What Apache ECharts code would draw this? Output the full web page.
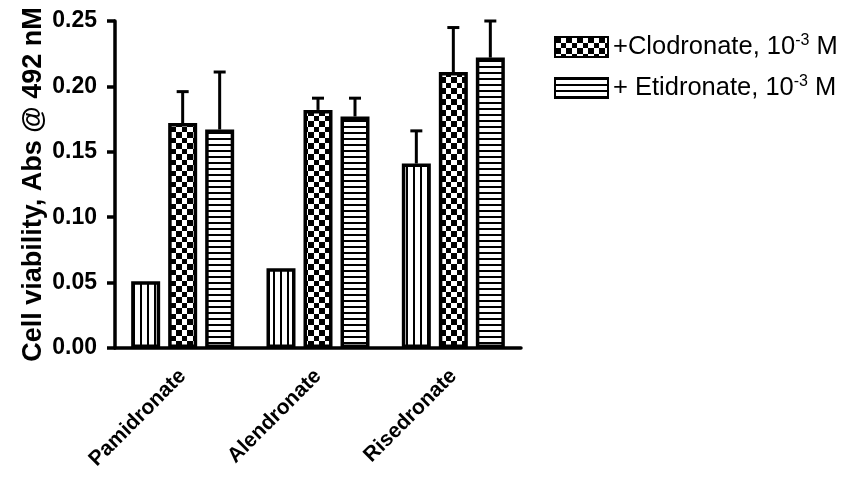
<!DOCTYPE html>
<html>
<head>
<meta charset="utf-8">
<script src="https://cdn.jsdelivr.net/npm/echarts@6/dist/echarts.min.js"></script>
<style>
  html, body { margin: 0; padding: 0; background: #fff; }
  #chart { width: 849px; height: 477px; }
</style>
</head>
<body>
<div id="chart"></div>
<script>
const categories = ["Pamidronate", "Alendronate", "Risedronate"];
const yTicks = [0, 0.05, 0.1, 0.15, 0.2, 0.25];

// bare drug, no legend entry
const plainVals = [0.051, 0.061, 0.141];
const plainErr = [0, 0, 0.025];
// + Clodronate 10^-3 M
const clodVals = [0.172, 0.182, 0.211];
const clodErr = [0.024, 0.009, 0.034];
// + Etidronate 10^-3 M
const etiVals = [0.167, 0.177, 0.222];
const etiErr = [0.044, 0.014, 0.028];

const FONT = "Arial, 'Liberation Sans', sans-serif";
const BAR_W = 29;
const GAP = 8;

function makePattern(kind) {
  const c = document.createElement("canvas");
  const ctx = c.getContext("2d");
  if (kind === "vert") {
    c.width = 7; c.height = 4;
    ctx.fillStyle = "#fff"; ctx.fillRect(0, 0, 7, 4);
    ctx.fillStyle = "#000"; ctx.fillRect(0, 0, 2, 4);
  } else if (kind === "check") {
    c.width = 11; c.height = 11;
    ctx.fillStyle = "#fff"; ctx.fillRect(0, 0, 11, 11);
    ctx.fillStyle = "#000";
    ctx.fillRect(0, 0, 6, 6);
    ctx.fillRect(6, 6, 5, 5);
  } else {
    c.width = 4; c.height = 6;
    ctx.fillStyle = "#fff"; ctx.fillRect(0, 0, 4, 6);
    ctx.fillStyle = "#000"; ctx.fillRect(0, 0, 4, 2);
  }
  return { image: c, repeat: "repeat" };
}

function barSeries(name, vals, kind) {
  return {
    name: name,
    type: "bar",
    data: vals,
    barWidth: BAR_W,
    barGap: (GAP / BAR_W * 100).toFixed(1) + "%",
    itemStyle: { color: makePattern(kind), borderColor: "#000", borderWidth: 3.5 },
    emphasis: { disabled: true },
  };
}

function errSeries(vals, errs, k) {
  return {
    type: "custom",
    data: vals.map((v, i) => [i, v, v + errs[i]]),
    z: 1,
    silent: true,
    renderItem: (params, api) => {
      const i = api.value(0);
      const lo = api.coord([i, api.value(1)]);
      const hi = api.coord([i, api.value(2)]);
      if (api.value(2) <= api.value(1)) return null;
      const x = lo[0] + (k - 1) * (BAR_W + GAP);
      const st = { stroke: "#000", lineWidth: 3 };
      return {
        type: "group",
        children: [
          { type: "line", shape: { x1: x, y1: lo[1], x2: x, y2: hi[1] }, style: st },
          { type: "line", shape: { x1: x - 6, y1: hi[1], x2: x + 6, y2: hi[1] }, style: st },
        ],
      };
    },
  };
}

const chart = echarts.init(document.getElementById("chart"));
chart.setOption({
  animation: false,
  grid: { left: 115, right: 328, top: 21, bottom: 129 },
  legend: {
    data: ["clod", "eti"],
    orient: "vertical",
    left: 549,
    top: 28,
    itemWidth: 53,
    itemHeight: 20,
    itemGap: 14,
    selectedMode: false,
    icon: "rect",
    formatter: (n) =>
      n === "clod"
        ? "{a|+Clodronate, 10}{s|-3}{a| M}"
        : "{a|+ Etidronate, 10}{s|-3}{a| M}",
    textStyle: {
      rich: {
        a: { fontFamily: FONT, fontSize: 25.5, color: "#000" },
        s: { fontFamily: FONT, fontSize: 16, color: "#000", verticalAlign: "top", padding: [0, 0, 12, 0] },
      },
    },
  },
  xAxis: {
    type: "category",
    data: categories,
    axisLine: { lineStyle: { color: "#000", width: 3.5 } },
    axisTick: { alignWithLabel: true, length: 10, lineStyle: { color: "#000", width: 3.5 } },
    axisLabel: {
      rotate: 45,
      margin: 25,
      fontFamily: FONT,
      fontWeight: "bold",
      fontSize: 21,
      color: "#000",
    },
  },
  yAxis: {
    type: "value",
    min: 0,
    max: 0.25,
    interval: 0.05,
    name: "Cell viability, Abs @ 492 nM",
    nameLocation: "middle",
    nameGap: 68,
    nameTextStyle: { fontFamily: FONT, fontWeight: "bold", fontSize: 27, color: "#000" },
    axisLine: { show: true, lineStyle: { color: "#000", width: 3.5 } },
    axisTick: { show: true, length: 8, lineStyle: { color: "#000", width: 3.5 } },
    splitLine: { show: false },
    axisLabel: {
      formatter: (v) => v.toFixed(2),
      margin: 18,
      fontFamily: FONT,
      fontWeight: "bold",
      fontSize: 23,
      color: "#000",
      customValues: yTicks,
    },
  },
  series: [
    barSeries("plain", plainVals, "vert"),
    barSeries("clod", clodVals, "check"),
    barSeries("eti", etiVals, "horiz"),
    errSeries(plainVals, plainErr, 0),
    errSeries(clodVals, clodErr, 1),
    errSeries(etiVals, etiErr, 2),
  ],
});
</script>
</body>
</html>
